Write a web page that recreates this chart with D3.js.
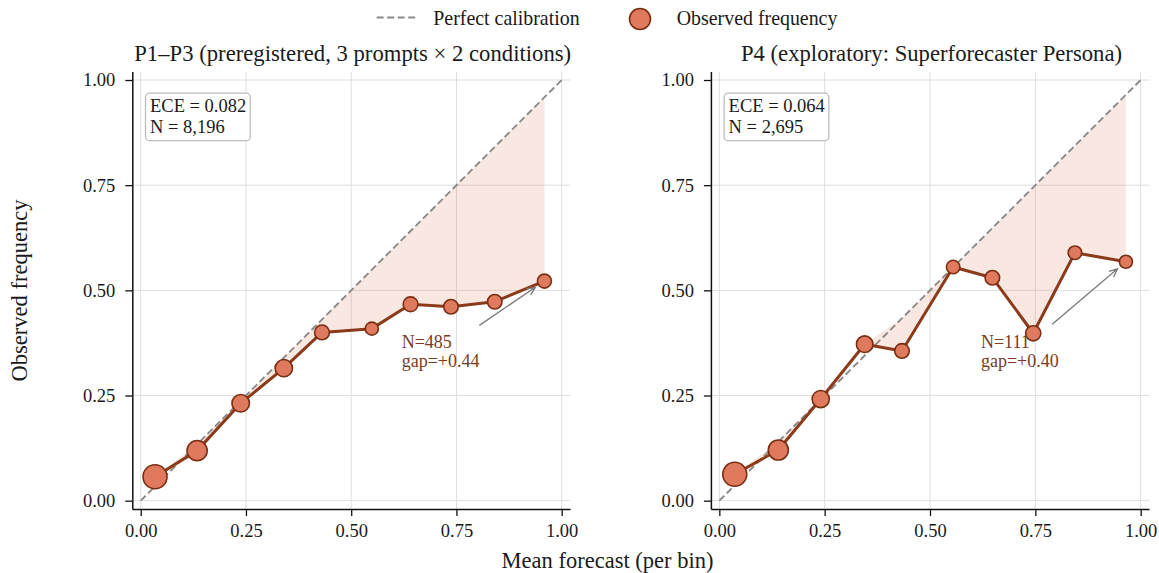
<!DOCTYPE html>
<html><head><meta charset="utf-8">
<script src="https://cdn.jsdelivr.net/npm/d3@7"></script>
<style>
body{margin:0;background:#fff}
svg{display:block}
text{font-family:"Liberation Serif","Times New Roman",serif}
</style>
</head><body>
<svg id="c" width="1159" height="573"></svg>
<script>
// ---- data ----
const tickValues = [0, 0.25, 0.5, 0.75, 1.0];
const panelTitles = ["P1–P3 (preregistered, 3 prompts × 2 conditions)", "P4 (exploratory: Superforecaster Persona)"];
const p13Forecast = [0.034, 0.134, 0.2375, 0.340, 0.4306, 0.549, 0.641, 0.737, 0.841, 0.959];
const p13Observed = [0.057, 0.119, 0.2315, 0.315, 0.400, 0.409, 0.467, 0.461, 0.473, 0.522];
const p13Counts   = [1420, 1000, 760, 740, 540, 420, 540, 520, 520, 485];
const p4Forecast  = [0.0366, 0.140, 0.2406, 0.345, 0.4335, 0.555, 0.648, 0.745, 0.844, 0.965];
const p4Observed  = [0.0627, 0.1205, 0.2417, 0.372, 0.356, 0.5555, 0.530, 0.398, 0.5895, 0.568];
const p4Counts    = [640, 400, 260, 235, 160, 125, 160, 180, 125, 111];
const eceLabels   = ["ECE = 0.082", "ECE = 0.064"];
const nLabels     = ["N = 8,196", "N = 2,695"];
const annotLines  = [["N=485", "gap=+0.44"], ["N=111", "gap=+0.40"]];
const annotTextAt = [[0.62, 0.362], [0.621, 0.362]];   // data coords of text (left, first baseline)
const legendLabels = ["Perfect calibration", "Observed frequency"];
const xLabel = "Mean forecast (per bin)";
const yLabel = "Observed frequency";

// ---- style ----
const C = {
  diag: "#8a8a8a", line: "#8B3A1A", fill: "#E07A5F", edge: "#7A2E12",
  grid: "#dedede", text: "#1a1a1a", annot: "#7a3b22", arrow: "#7a7a7a"
};

const svg = d3.select("#c");
const panels = [
  {f: p13Forecast, o: p13Observed, n: p13Counts, xr: [132.3, 570.1]},
  {f: p4Forecast,  o: p4Observed,  n: p4Counts,  xr: [710.9, 1149.1]}
];
const yr = [509.1, 71.6];
const fmt = d3.format(".2f");

panels.forEach((p, i) => {
  const x = d3.scaleLinear().domain([-0.02, 1.02]).range(p.xr);
  const y = d3.scaleLinear().domain([-0.02, 1.02]).range(yr);
  const r = d3.scaleSqrt().domain(d3.extent(p.n)).range([6.5, 12]);
  const data = p.f.map((f, k) => ({f, o: p.o[k], n: p.n[k]}));
  const g = svg.append("g");

  // grid
  g.selectAll(".gx").data(tickValues).join("line")
    .attr("x1", d => x(d)).attr("x2", d => x(d)).attr("y1", yr[0]).attr("y2", yr[1])
    .attr("stroke", C.grid).attr("stroke-width", 1);
  g.selectAll(".gy").data(tickValues).join("line")
    .attr("y1", d => y(d)).attr("y2", d => y(d)).attr("x1", p.xr[0]).attr("x2", p.xr[1])
    .attr("stroke", C.grid).attr("stroke-width", 1);

  // gap fill
  g.append("path").datum(data)
    .attr("d", d3.area().x(d => x(d.f)).y0(d => y(d.o)).y1(d => y(Math.max(d.o, d.f))))
    .attr("fill", C.fill).attr("fill-opacity", 0.18);

  // diagonal
  g.append("path").datum([0, 1])
    .attr("d", d3.line().x(d => x(d)).y(d => y(d)))
    .attr("stroke", C.diag).attr("stroke-width", 1.9).attr("stroke-dasharray", "7,3.5").attr("fill", "none");

  // observed line
  g.append("path").datum(data)
    .attr("d", d3.line().x(d => x(d.f)).y(d => y(d.o)))
    .attr("stroke", C.line).attr("stroke-width", 3).attr("fill", "none").attr("stroke-linejoin", "round");

  g.selectAll("circle.pt").data(data).join("circle")
    .attr("cx", d => x(d.f)).attr("cy", d => y(d.o)).attr("r", d => r(d.n))
    .attr("fill", C.fill).attr("stroke", C.edge).attr("stroke-width", 1.6);

  // axes
  const ax = g.append("g").attr("transform", `translate(0,${yr[0]})`)
    .call(d3.axisBottom(x).tickValues(tickValues).tickFormat(fmt).tickSize(7).tickSizeOuter(0).tickPadding(8));
  const ay = g.append("g").attr("transform", `translate(${p.xr[0]},0)`)
    .call(d3.axisLeft(y).tickValues(tickValues).tickFormat(fmt).tickSize(7).tickSizeOuter(0).tickPadding(10));
  [ax, ay].forEach(a => {
    a.select(".domain").attr("stroke", "#111").attr("stroke-width", 1.5);
    a.selectAll(".tick line").attr("stroke", "#111").attr("stroke-width", 1.3);
    a.selectAll(".tick text").attr("fill", C.text).style("font-size", "18.5px")
      .style("font-family", '"Liberation Serif",serif');
  });

  // title
  g.append("text").attr("x", (p.xr[0] + p.xr[1]) / 2 + 1.5).attr("y", 61)
    .attr("text-anchor", "middle").attr("fill", C.text).style("font-size", "22.7px")
    .text(panelTitles[i]);

  // ECE box
  const bx = p.xr[0] + 17.7;
  const box = g.append("g");
  const rect = box.append("rect");
  const t = box.append("text").attr("fill", C.text).style("font-size", "18.5px");
  t.append("tspan").attr("x", bx).attr("y", 111.7).text(eceLabels[i]);
  t.append("tspan").attr("x", bx).attr("y", 132.7).text(nLabels[i]);
  const bb = t.node().getBBox();
  rect.attr("x", bb.x - 4.5).attr("y", bb.y - 2.5).attr("width", bb.width + 8.5).attr("height", bb.height + 6.5)
    .attr("rx", 4).attr("fill", "#fff").attr("stroke", "#bdbdbd").attr("stroke-width", 1.3);

  // annotation
  const at = g.append("text").attr("fill", C.annot).style("font-size", "18px");
  const tx = x(annotTextAt[i][0]), ty = y(annotTextAt[i][1]);
  annotLines[i].forEach((s, k) => at.append("tspan").attr("x", tx).attr("y", ty + k * 18.7).text(s));
  const ab = at.node().getBBox();
  const last = data[data.length - 1];
  const cx = ab.x + ab.width / 2, cy = ab.y + ab.height / 2;
  const txp = x(last.f), typ = y(last.o);
  const dx = txp - cx, dy = typ - cy, len = Math.hypot(dx, dy);
  const ux = dx / len, uy = dy / len;
  const tExit = Math.min((ab.width / 2) / Math.abs(dx), (ab.height / 2) / Math.abs(dy)) * len;
  const s0 = tExit + 12.5, s1 = len - 11;
  const x0 = cx + ux * s0, y0 = cy + uy * s0, x1 = cx + ux * s1, y1 = cy + uy * s1;
  const hl = 9, ang = 0.42;
  const hx1 = x1 - hl * (ux * Math.cos(ang) - uy * Math.sin(ang));
  const hy1 = y1 - hl * (uy * Math.cos(ang) + ux * Math.sin(ang));
  const hx2 = x1 - hl * (ux * Math.cos(-ang) - uy * Math.sin(-ang));
  const hy2 = y1 - hl * (uy * Math.cos(-ang) + ux * Math.sin(-ang));
  g.append("path").attr("d", `M${x0},${y0}L${x1},${y1}M${hx1},${hy1}L${x1},${y1}L${hx2},${hy2}`)
    .attr("stroke", C.arrow).attr("stroke-width", 1.3).attr("fill", "none");
});

// legend
const lg = svg.append("g");
lg.append("line").attr("x1", 376.7).attr("x2", 416.7).attr("y1", 17.5).attr("y2", 17.5)
  .attr("stroke", C.diag).attr("stroke-width", 1.9).attr("stroke-dasharray", "7,3.5");
lg.append("text").attr("x", 433.3).attr("y", 25).attr("fill", C.text).style("font-size", "19.9px").text(legendLabels[0]);
lg.append("circle").attr("cx", 640).attr("cy", 19).attr("r", 10.5)
  .attr("fill", C.fill).attr("stroke", C.edge).attr("stroke-width", 1.6);
lg.append("text").attr("x", 676.7).attr("y", 25).attr("fill", C.text).style("font-size", "19.9px").text(legendLabels[1]);

// axis labels
svg.append("text").attr("x", 607.5).attr("y", 568).attr("text-anchor", "middle")
  .attr("fill", C.text).style("font-size", "22.5px").text(xLabel);
svg.append("text").attr("transform", "translate(27,290.5) rotate(-90)").attr("text-anchor", "middle")
  .attr("fill", C.text).style("font-size", "22.5px").text(yLabel);
</script>
</body></html>
